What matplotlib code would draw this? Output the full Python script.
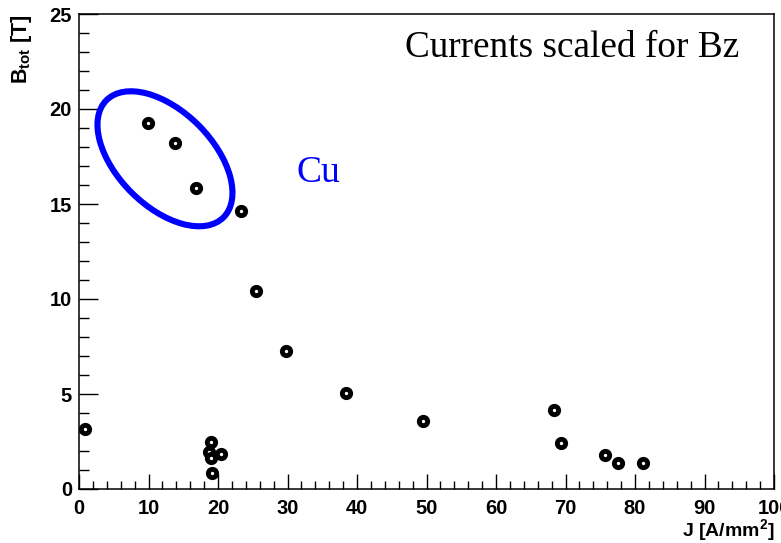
import matplotlib
matplotlib.use("Agg")
import matplotlib.pyplot as plt
from matplotlib.patches import Ellipse
from matplotlib.transforms import ScaledTranslation
from matplotlib.ticker import MultipleLocator

# Data
J = [0.86, 9.93, 13.8, 16.9, 23.3, 25.5, 29.8, 38.4, 49.5, 68.3, 69.4, 75.7, 77.5, 81.2,
     19.0, 18.7, 19.0, 20.4, 19.1]
B = [3.15, 19.28, 18.2, 15.85, 14.62, 10.4, 7.25, 5.04, 3.57, 4.15, 2.44, 1.79, 1.37, 1.37,
     2.45, 1.95, 1.65, 1.82, 0.86]
xticks = [0, 10, 20, 30, 40, 50, 60, 70, 80, 90, 100]
yticks = [0, 5, 10, 15, 20, 25]

plt.rcParams['mathtext.fontset'] = 'custom'
plt.rcParams['mathtext.rm'] = 'Liberation Sans:bold'
plt.rcParams['mathtext.it'] = 'Liberation Sans:bold'
plt.rcParams['mathtext.bf'] = 'Liberation Sans:bold'
plt.rcParams['mathtext.default'] = 'rm'

W, H = 781, 543
fig = plt.figure(figsize=(W / 100, H / 100), dpi=100)
ax = fig.add_axes([79 / W, 1 - 489 / H, (774 - 79) / W, (489 - 14) / H])

ax.plot(J, B, linestyle='none', marker='o', ms=6.0, mew=3.5, mfc='white', mec='black', zorder=3)

ax.set_xlim(0, 100)
ax.set_ylim(0, 25)
ax.set_xticks(xticks)
ax.set_yticks(yticks)
ax.xaxis.set_minor_locator(MultipleLocator(2))
ax.yaxis.set_minor_locator(MultipleLocator(1))
ax.tick_params(axis='both', which='both', direction='in', top=False, right=False, width=1.0)
ax.tick_params(axis='x', which='major', length=11, pad=7)
ax.tick_params(axis='x', which='minor', length=5.5)
ax.tick_params(axis='y', which='major', length=14, pad=5)
ax.tick_params(axis='y', which='minor', length=7.5)
for lab in ax.get_xticklabels() + ax.get_yticklabels():
    lab.set_fontfamily('Liberation Sans')
    lab.set_fontweight('bold')
    lab.set_fontsize(14.5)
for s in ax.spines.values():
    s.set_linewidth(1.1)

# axis titles
fig.text(775 / W, 1 - 536 / H, r'J [A/mm$^{2}$]', ha='right', va='baseline',
         fontfamily='Liberation Sans', fontweight='bold', fontsize=14)
fig.text(22 / W, 1 - 14 / H, r'B$_{tot}$ [T]', ha='center', va='top', rotation=90,
         fontfamily='Liberation Sans', fontweight='bold', fontsize=15.5)

# annotations
fig.text(405 / W, 1 - 57 / H, 'Currents scaled for Bz', ha='left', va='baseline',
         fontfamily='Liberation Serif', fontsize=26.8, color='black')
fig.text(297 / W, 1 - 182 / H, 'Cu', ha='left', va='baseline',
         fontfamily='Liberation Serif', fontsize=27, color='#0000ff')

# ellipse (in pixel-sized inches around a data-space centre)
trans = fig.dpi_scale_trans + ScaledTranslation(12.37, 17.38, ax.transData)
ell = Ellipse((0, 0), 1.656, 0.95, angle=-45, transform=trans, fill=False,
              edgecolor='#0000ff', linewidth=4.4, zorder=4)
ax.add_patch(ell)

fig.savefig('out.png', dpi=100)
